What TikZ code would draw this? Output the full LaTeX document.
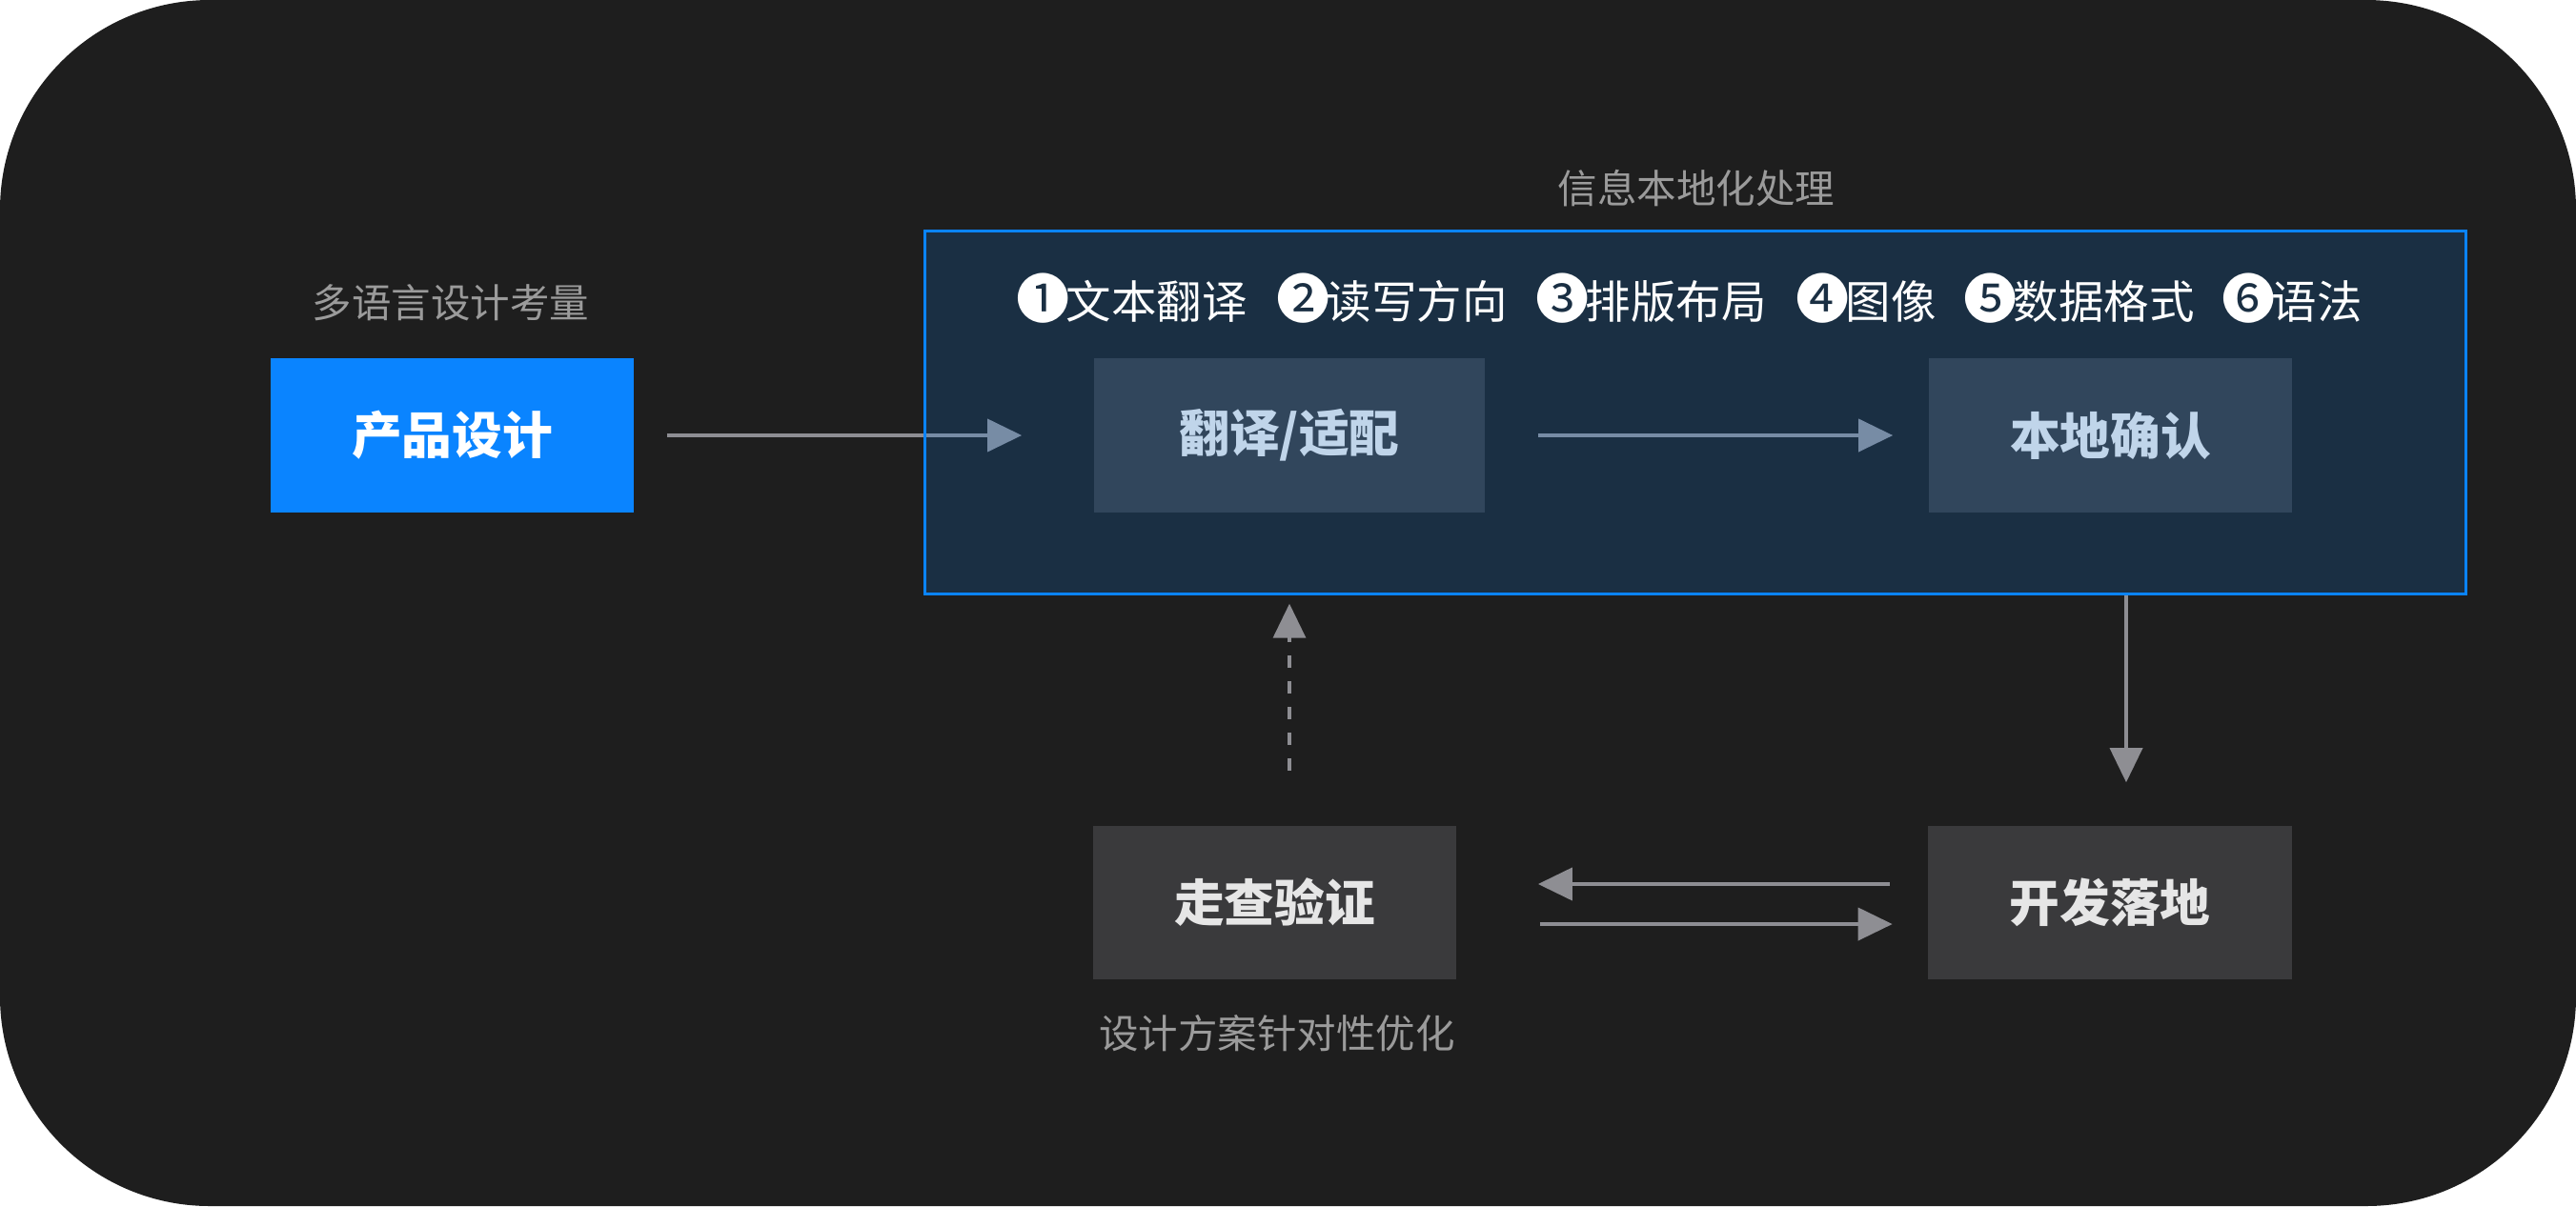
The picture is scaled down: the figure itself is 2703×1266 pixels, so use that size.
\documentclass[tikz,border=0pt]{standalone}
\usepackage{fontspec}
\setmainfont{Noto Sans CJK SC}
\usetikzlibrary{arrows.meta}
\definecolor{bgdark}{HTML}{1E1E1E}
\definecolor{prodblue}{HTML}{0A84FF}
\definecolor{stepgray}{HTML}{3A3A3C}
\definecolor{arrowgray}{HTML}{8E8E93}
\definecolor{labelgray}{HTML}{9B9B9B}
\definecolor{steptext}{HTML}{E6E6E6}
\pgfdeclarelayer{front}
\pgfsetlayers{main,front}

\begin{document}
\begin{tikzpicture}[x=0.01cm, y=-0.01cm,
  stepbox/.style={rectangle, fill=stepgray, minimum width=3.81cm, minimum height=1.61cm, text=steptext, font=\fontsize{15}{18}\selectfont\bfseries},
  note/.style={text=labelgray, font=\fontsize{11.8}{14}\selectfont},
  flow/.style={arrowgray, line width=1.1pt, -{Triangle[length=0.36cm, width=0.34cm]}}]
% Background
\fill[white] (0,0) rectangle (2703,1266);
\fill[bgdark, rounded corners=2.2cm] (0,0) rectangle (2703,1266);

% Steps
\node[stepbox, fill=prodblue, text=white] (prod) at (474.5,457) {产品设计};
\node[note] (prodnote) at (473,318) {多语言设计考量};
\node[stepbox, minimum width=4.1cm] (trans) at (1353,457) {翻译/适配};
\node[stepbox] (confirm) at (2214.5,457) {本地确认};
\node[stepbox] (check) at (1337.5,947.5) {走查验证};
\node[stepbox] (dev) at (2214,947.5) {开发落地};
\node[note] (checknote) at (1340,1085) {设计方案针对性优化};
\node[note] (locnote) at (1780,198) {信息本地化处理};

% Localisation frame and its topics
\begin{pgfonlayer}{front}
\node[rectangle, draw=prodblue, line width=0.9pt, fill=prodblue, fill opacity=0.17, minimum width=16.16cm, minimum height=3.8cm] (locbox) at (1779,433) {};
\foreach \x/\n/\t [count=\i] in {1066/❶/文本翻译, 1339/❷/读写方向, 1611/❸/排版布局, 1884/❹/图像, 2060/❺/数据格式, 2331/❻/语法}
  \node[anchor=west, text=white, inner sep=0pt, font=\fontsize{13.5}{16}\selectfont] (item\i) at (\x,313) {{\fontsize{16}{16}\selectfont\n}\kern-1.2pt\t};
\end{pgfonlayer}

% Arrows
\draw[flow] ([xshift=0.34cm]prod.east) -- ([xshift=-0.75cm]trans.west);
\draw[flow] ([xshift=0.55cm]trans.east) -- ([xshift=-0.37cm]confirm.west);
\draw[flow, line width=1pt] ([xshift=0.17cm]dev.north |- locbox.south) -- ([xshift=0.17cm, yshift=0.45cm]dev.north);
\draw[flow] ([xshift=-0.40cm, yshift=0.195cm]dev.west) -- ([xshift=0.85cm, yshift=0.195cm]check.east);
\draw[flow] ([xshift=0.87cm, yshift=-0.225cm]check.east) -- ([xshift=-0.37cm, yshift=-0.225cm]dev.west);

% Feedback loop
\draw[flow, line width=1pt, dash pattern=on 0.13cm off 0.14cm] ([yshift=0.57cm]check.north -| trans.south) -- ([yshift=-0.09cm]locbox.south -| trans.south);
\end{tikzpicture}
\end{document}
